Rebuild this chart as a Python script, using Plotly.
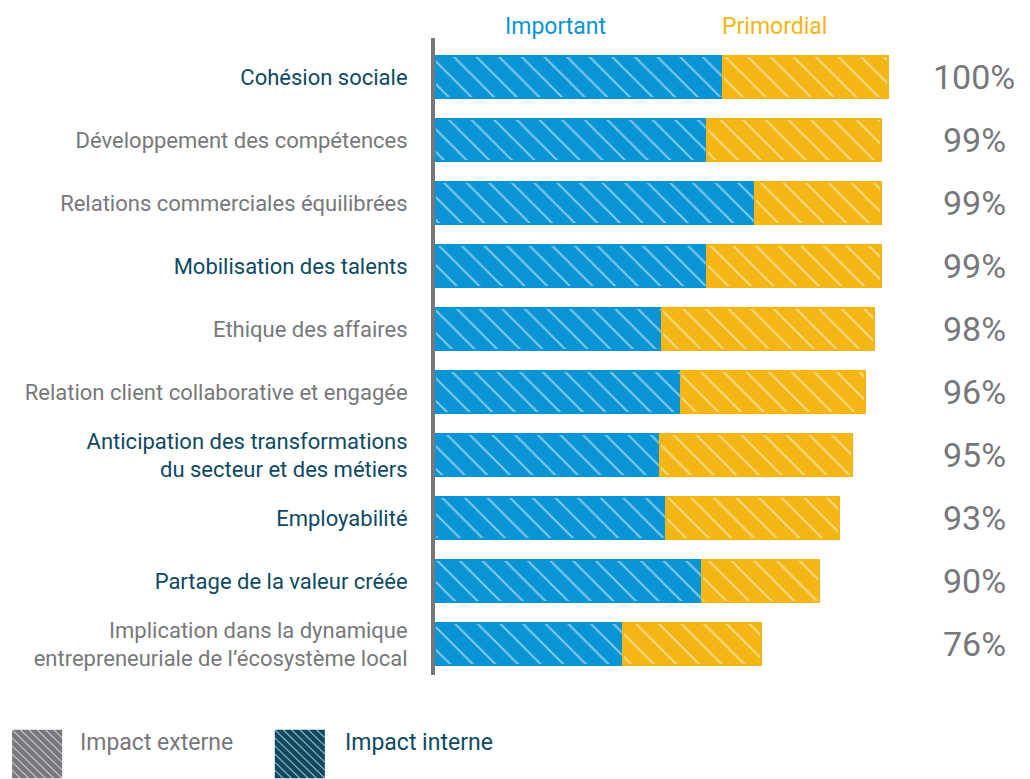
import plotly.graph_objects as go

# ── data ──────────────────────────────────────────────
categories = [
    "Cohésion sociale",
    "Développement des compétences",
    "Relations commerciales équilibrées",
    "Mobilisation des talents",
    "Ethique des affaires",
    "Relation client collaborative et engagée",
    "Anticipation des transformations<br>du secteur et des métiers",
    "Employabilité",
    "Partage de la valeur créée",
    "Implication dans la dynamique<br>entrepreneuriale de l’écosystème local",
]
impact_type = ["interne", "externe", "externe", "interne", "externe",
               "externe", "interne", "interne", "interne", "externe"]
important = [63.6, 60, 70.6, 60, 50, 54.3, 49.7, 51, 59, 41.5]
primordial = [36.4, 38.5, 27.8, 38.5, 46.8, 40.6, 42.4, 38.2, 25.8, 30.5]
totals = ["100%", "99%", "99%", "99%", "98%", "96%", "95%", "93%", "90%", "76%"]

# ── style ─────────────────────────────────────────────
BLUE = "#0995d5"
YELLOW = "#f4b614"
TEAL = "#0d4a62"
GREY = "#77787b"
FONT = "Roboto, sans-serif"

label_color = {"interne": TEAL, "externe": GREY}
ticktext = [
    f'<span style="color:{label_color[t]}">{c}</span>'
    for c, t in zip(categories, impact_type)
]
ypos = list(range(len(categories)))

fig = go.Figure()

for name, vals, col in [("Important", important, BLUE), ("Primordial", primordial, YELLOW)]:
    fig.add_trace(
        go.Bar(
            y=ypos,
            x=vals,
            name=name,
            orientation="h",
            width=0.67,
            marker=dict(
                color=col,
                line=dict(color=col, width=2),
                pattern=dict(shape="\\", fgcolor="white", bgcolor=col,
                             size=16, solidity=0.12, fillmode="overlay"),
            ),
            showlegend=False,
        )
    )

# series headers
fig.add_annotation(x=26.5, y=1.0, xref="x", yref="paper", yanchor="bottom",
                   text="Important", showarrow=False,
                   font=dict(family=FONT, size=23, color=BLUE), yshift=-4)
fig.add_annotation(x=75, y=1.0, xref="x", yref="paper", yanchor="bottom",
                   text="Primordial", showarrow=False,
                   font=dict(family=FONT, size=23, color=YELLOW), yshift=-4)

# percentage labels
for yi, t in zip(ypos, totals):
    fig.add_annotation(x=119, y=yi, xref="x", yref="y", text=t, showarrow=False,
                       font=dict(family=FONT, size=34, color=GREY))

# legend swatches (bottom, paper coords relative to plot area)
legend_items = [("Impact externe", GREY, -0.718, -0.606),
                ("Impact interne", TEAL, -0.272, -0.156)]
sq_w, y_top, y_bot = 0.085, -0.086, -0.162
for label, col, x0, tx in legend_items:
    fig.add_shape(type="rect", xref="paper", yref="paper",
                  x0=x0, x1=x0 + sq_w, y0=y_top, y1=y_bot,
                  fillcolor=col, line=dict(width=0))
    for k in range(6):
        f = k / 6
        fig.add_shape(type="line", xref="paper", yref="paper",
                      x0=x0 + sq_w * f, y0=y_top,
                      x1=x0 + sq_w, y1=y_bot + (y_top - y_bot) * f,
                      line=dict(color="rgba(255,255,255,0.55)", width=1.2))
        if k:
            fig.add_shape(type="line", xref="paper", yref="paper",
                          x0=x0, y0=y_top - (y_top - y_bot) * f,
                          x1=x0 + sq_w * (1 - f), y1=y_bot,
                          line=dict(color="rgba(255,255,255,0.55)", width=1.2))
    fig.add_annotation(x=tx, y=-0.13, xref="paper", yref="paper", xanchor="left",
                       text=label, showarrow=False,
                       font=dict(family=FONT, size=23, color=col))

fig.update_layout(
    barmode="stack",
    width=1022,
    height=771,
    paper_bgcolor="white",
    plot_bgcolor="white",
    margin=dict(l=427, r=6, t=30, b=104),
    font=dict(family=FONT),
    xaxis=dict(range=[0, 130], visible=False),
    yaxis=dict(
        tickmode="array",
        tickvals=ypos,
        ticktext=ticktext,
        range=[9.49, -0.62],
        showline=True,
        linecolor=GREY,
        linewidth=4,
        showgrid=False,
        zeroline=False,
        ticks="",
        ticklabelstandoff=19,
        tickfont=dict(family=FONT, size=22),
    ),
)

fig.write_html("out.html")
